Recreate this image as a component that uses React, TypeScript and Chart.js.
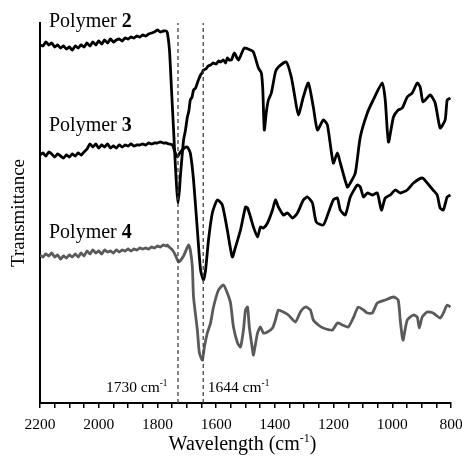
import React, { useEffect, useRef } from "react";
import { Chart, registerables } from "chart.js";

Chart.register(...registerables);

const FONT = "'Liberation Serif', 'Times New Roman', Times, serif";

// ---- Data (wavenumber in cm-1, transmittance in arbitrary units) ----
const wavenumbers2 = [
  2200, 2190, 2180, 2170, 2160, 2150, 2140, 2130, 2120, 2110, 2100, 2090, 2080, 2070, 2060, 2050, 2040, 2030,
  2020, 2010, 2000, 1990, 1980, 1970, 1960, 1950, 1940, 1930, 1920, 1910, 1900, 1890, 1880, 1870, 1860, 1850,
  1840, 1830, 1820, 1810, 1800, 1790, 1780, 1770, 1766, 1759, 1752, 1745, 1739, 1734, 1730, 1725, 1722, 1711,
  1705, 1698, 1693, 1688, 1682, 1677, 1670, 1664, 1659, 1653, 1648, 1643, 1635, 1627, 1619, 1610, 1600, 1592,
  1585, 1575, 1568, 1562, 1555, 1548, 1538, 1524, 1504, 1483, 1473, 1456, 1446, 1441, 1436, 1429, 1422, 1412,
  1398, 1388, 1361, 1344, 1333, 1320, 1303, 1286, 1269, 1255, 1235, 1221, 1201, 1187, 1177, 1153, 1143, 1126,
  1109, 1085, 1065, 1034, 1024, 1013, 996, 980, 966, 949, 932, 915, 905, 895, 871, 854, 837, 820, 813, 802,
];
const transmittance2 = [
  358, 357, 361, 358, 360, 356, 358, 355, 357, 354, 356, 353, 357, 355, 358, 356, 360, 357,
  361, 358, 362, 359, 363, 360, 364, 361, 363, 364, 362, 365, 364, 366, 365, 367, 366, 368,
  367, 369, 370, 371, 373, 371, 372, 372, 370, 353, 313, 273, 238, 213, 200, 213, 226, 263,
  272, 286, 292, 303, 306, 313, 315, 320, 324, 328, 330, 333, 334, 337, 338, 340, 339, 342,
  341, 343, 340, 345, 343, 343, 350, 343, 355, 353, 351, 335, 330, 313, 273, 291, 303, 310,
  331, 336, 341, 326, 308, 288, 306, 320, 296, 273, 283, 278, 240, 250, 240, 216, 220, 230,
  266, 290, 303, 320, 303, 261, 286, 293, 295, 306, 310, 320, 316, 301, 308, 300, 275, 283, 303, 305,
];

const wavenumbers3 = [
  2200, 2190, 2180, 2170, 2160, 2150, 2140, 2130, 2120, 2110, 2100, 2090, 2080, 2070, 2060, 2050, 2040, 2030,
  2020, 2010, 2000, 1990, 1980, 1970, 1960, 1950, 1940, 1930, 1920, 1910, 1900, 1890, 1880, 1870, 1860, 1850,
  1840, 1830, 1820, 1810, 1800, 1790, 1780, 1770, 1760, 1749, 1739, 1732, 1722, 1708, 1698, 1688, 1677, 1664,
  1653, 1643, 1636, 1626, 1613, 1596, 1579, 1562, 1545, 1534, 1517, 1500, 1493, 1483, 1473, 1459, 1449, 1439,
  1425, 1408, 1398, 1388, 1371, 1357, 1340, 1323, 1303, 1289, 1272, 1259, 1235, 1218, 1201, 1187, 1177, 1160,
  1143, 1119, 1109, 1098, 1085, 1068, 1051, 1037, 1024, 1007, 990, 973, 949, 928, 898, 881, 861, 847, 837,
  826, 813, 802,
];
const transmittance3 = [
  248, 250, 247, 251, 249, 246, 249, 247, 245, 248, 246, 249, 247, 250, 248, 251, 254, 259,
  256, 259, 255, 258, 256, 259, 255, 257, 255, 258, 256, 258, 257, 259, 257, 258, 258, 259,
  258, 260, 259, 260, 260, 261, 260, 260, 259, 258, 250, 246, 251, 255, 256, 250, 223, 173,
  133, 123, 133, 163, 190, 203, 198, 173, 146, 156, 173, 196, 195, 186, 176, 166, 176, 175,
  180, 193, 203, 196, 188, 190, 185, 190, 203, 206, 200, 181, 178, 190, 203, 205, 193, 188,
  206, 218, 216, 206, 210, 208, 210, 193, 205, 208, 213, 210, 213, 220, 225, 220, 213, 208, 195,
  193, 206, 208,
];

const wavenumbers4 = [
  2200, 2190, 2180, 2170, 2160, 2150, 2140, 2130, 2120, 2110, 2100, 2090, 2080, 2070, 2060, 2050, 2040, 2030,
  2020, 2010, 2000, 1990, 1980, 1970, 1960, 1950, 1940, 1930, 1920, 1910, 1900, 1890, 1880, 1870, 1860, 1850,
  1840, 1830, 1820, 1810, 1800, 1790, 1780, 1770, 1766, 1760, 1749, 1739, 1728, 1711, 1694, 1688, 1681, 1677,
  1664, 1657, 1647, 1640, 1630, 1619, 1609, 1592, 1575, 1562, 1551, 1541, 1527, 1517, 1507, 1500, 1493, 1487,
  1476, 1473, 1459, 1449, 1439, 1425, 1408, 1398, 1388, 1371, 1354, 1330, 1313, 1296, 1279, 1269, 1252, 1235,
  1204, 1187, 1170, 1150, 1133, 1116, 1098, 1085, 1068, 1051, 1024, 996, 980, 973, 966, 963, 949, 928, 915,
  908, 898, 881, 861, 837, 826, 813, 802,
];
const transmittance4 = [
  148, 146, 149, 147, 150, 146, 148, 144, 147, 145, 148, 146, 149, 146, 150, 147, 152, 149,
  153, 150, 152, 149, 153, 151, 152, 150, 153, 151, 153, 152, 154, 152, 154, 153, 155, 154,
  155, 154, 156, 155, 157, 156, 158, 157, 158, 156, 153, 148, 141, 147, 158, 153, 136, 106,
  73, 50, 43, 56, 70, 80, 96, 113, 118, 110, 100, 76, 60, 56, 73, 93, 96, 76,
  53, 48, 70, 76, 70, 71, 75, 83, 93, 91, 88, 81, 91, 96, 93, 83, 78, 75,
  73, 80, 78, 76, 85, 96, 93, 90, 90, 100, 103, 106, 103, 83, 66, 63, 83, 88, 86,
  75, 86, 91, 90, 85, 90, 98, 96,
];

const polymerNumbers = ["2", "3", "4"];
const markerWavenumbers = [1730, 1644];
const xMin = 800;
const xMax = 2200;
const xStep = 50;
const xLabelStep = 200;
const yMin = 0;
const yMax = 380;

type Part = { t: string; bold?: boolean; sup?: boolean };

function drawRich(
  ctx: CanvasRenderingContext2D,
  parts: Part[],
  x: number,
  y: number,
  size: number,
  align: "left" | "right" | "center"
) {
  const fontFor = (p: Part) => {
    const s = p.sup ? size * 0.6 : size;
    return `${p.bold ? "bold " : ""}${s}px ${FONT}`;
  };
  let total = 0;
  const widths = parts.map((p) => {
    ctx.font = fontFor(p);
    const w = ctx.measureText(p.t).width;
    total += w;
    return w;
  });
  let cx = align === "left" ? x : align === "right" ? x - total : x - total / 2;
  ctx.textAlign = "left";
  ctx.textBaseline = "alphabetic";
  parts.forEach((p, i) => {
    ctx.font = fontFor(p);
    ctx.fillText(p.t, cx, p.sup ? y - size * 0.4 : y);
    cx += widths[i];
  });
}

const labelBaselines = [27, 130.5, 238];

const textPlugin = {
  id: "richTexts",
  afterDraw(chart: any) {
    const { ctx, chartArea, scales } = chart;
    ctx.save();
    ctx.fillStyle = "#000";
    polymerNumbers.forEach((n, i) => {
      drawRich(ctx, [{ t: "Polymer " }, { t: n, bold: true }], chartArea.left + 9, labelBaselines[i], 20, "left");
    });
    const xa = scales.x.getPixelForValue(markerWavenumbers[0]);
    drawRich(ctx, [{ t: `${markerWavenumbers[0]} cm` }, { t: "-1", sup: true }], xa - 10.5, 392, 15.5, "right");
    const xb = scales.x.getPixelForValue(markerWavenumbers[1]);
    drawRich(ctx, [{ t: `${markerWavenumbers[1]} cm` }, { t: "-1", sup: true }], xb + 4.5, 392, 15.5, "left");
    drawRich(
      ctx,
      [{ t: "Wavelength (cm" }, { t: "-1", sup: true }, { t: ")" }],
      (chartArea.left + chartArea.right) / 2 - 3,
      450,
      20,
      "center"
    );
    ctx.restore();
  },
};

function toPoints(xs: number[], ys: number[]) {
  return xs.map((x, i) => ({ x, y: ys[i] }));
}

export default function App() {
  const canvasRef = useRef<HTMLCanvasElement | null>(null);

  useEffect(() => {
    if (!canvasRef.current) return;
    const spectrum = (xs: number[], ys: number[], color: string) => ({
      data: toPoints(xs, ys),
      borderColor: color,
      backgroundColor: color,
      borderWidth: 2.8,
      pointRadius: 0,
      tension: 0.2,
      fill: false,
    });
    const marker = (w: number) => ({
      data: [
        { x: w, y: yMin },
        { x: w, y: yMax },
      ],
      borderColor: "#444",
      borderWidth: 1.3,
      borderDash: [4, 3],
      pointRadius: 0,
      fill: false,
    });

    const chart = new Chart(canvasRef.current, {
      type: "line",
      data: {
        datasets: [
          ...markerWavenumbers.map(marker),
          spectrum(wavenumbers4, transmittance4, "#5a5a5a"),
          spectrum(wavenumbers3, transmittance3, "#000"),
          spectrum(wavenumbers2, transmittance2, "#000"),
        ] as any,
      },
      options: {
        responsive: false,
        animation: false,
        devicePixelRatio: 1,
        layout: { padding: { left: 0, right: 11, top: 23, bottom: 0 } },
        plugins: { legend: { display: false }, tooltip: { enabled: false } },
        scales: {
          x: {
            type: "linear",
            reverse: true,
            min: xMin,
            max: xMax,
            afterBuildTicks: (s: any) => {
              const ticks = [];
              for (let v = xMin; v <= xMax; v += xStep) ticks.push({ value: v });
              s.ticks = ticks;
            },
            afterFit: (s: any) => {
              s.height = 55;
              s.paddingLeft = 0;
              s.paddingRight = 0;
            },
            ticks: {
              autoSkip: false,
              maxRotation: 0,
              padding: 7.5,
              color: "#000",
              font: { family: FONT, size: 15.5 },
              callback: (v: any) => (Number(v) % xLabelStep === 0 ? String(v) : ""),
            },
            grid: {
              display: true,
              drawOnChartArea: false,
              drawTicks: true,
              tickLength: 5,
              color: "#000",
              tickColor: "#000",
              tickWidth: 1.5,
              lineWidth: 1.5,
            },
            border: { display: true, color: "#000", width: 2 },
          },
          y: {
            type: "linear",
            min: yMin,
            max: yMax,
            afterFit: (s: any) => {
              s.width = 40;
            },
            ticks: { display: false },
            grid: { display: false },
            border: { display: true, color: "#000", width: 2 },
            title: {
              display: true,
              text: "Transmittance",
              color: "#000",
              font: { family: FONT, size: 19 },
              padding: { top: 7.5, bottom: 0 },
            },
          },
        },
      },
      plugins: [textPlugin],
    } as any);
    return () => chart.destroy();
  }, []);

  return (
    <div style={{ position: "absolute", left: 0, top: 0, width: 462, height: 458, background: "#fff" }}>
      <canvas ref={canvasRef} width={462} height={458} />
    </div>
  );
}
